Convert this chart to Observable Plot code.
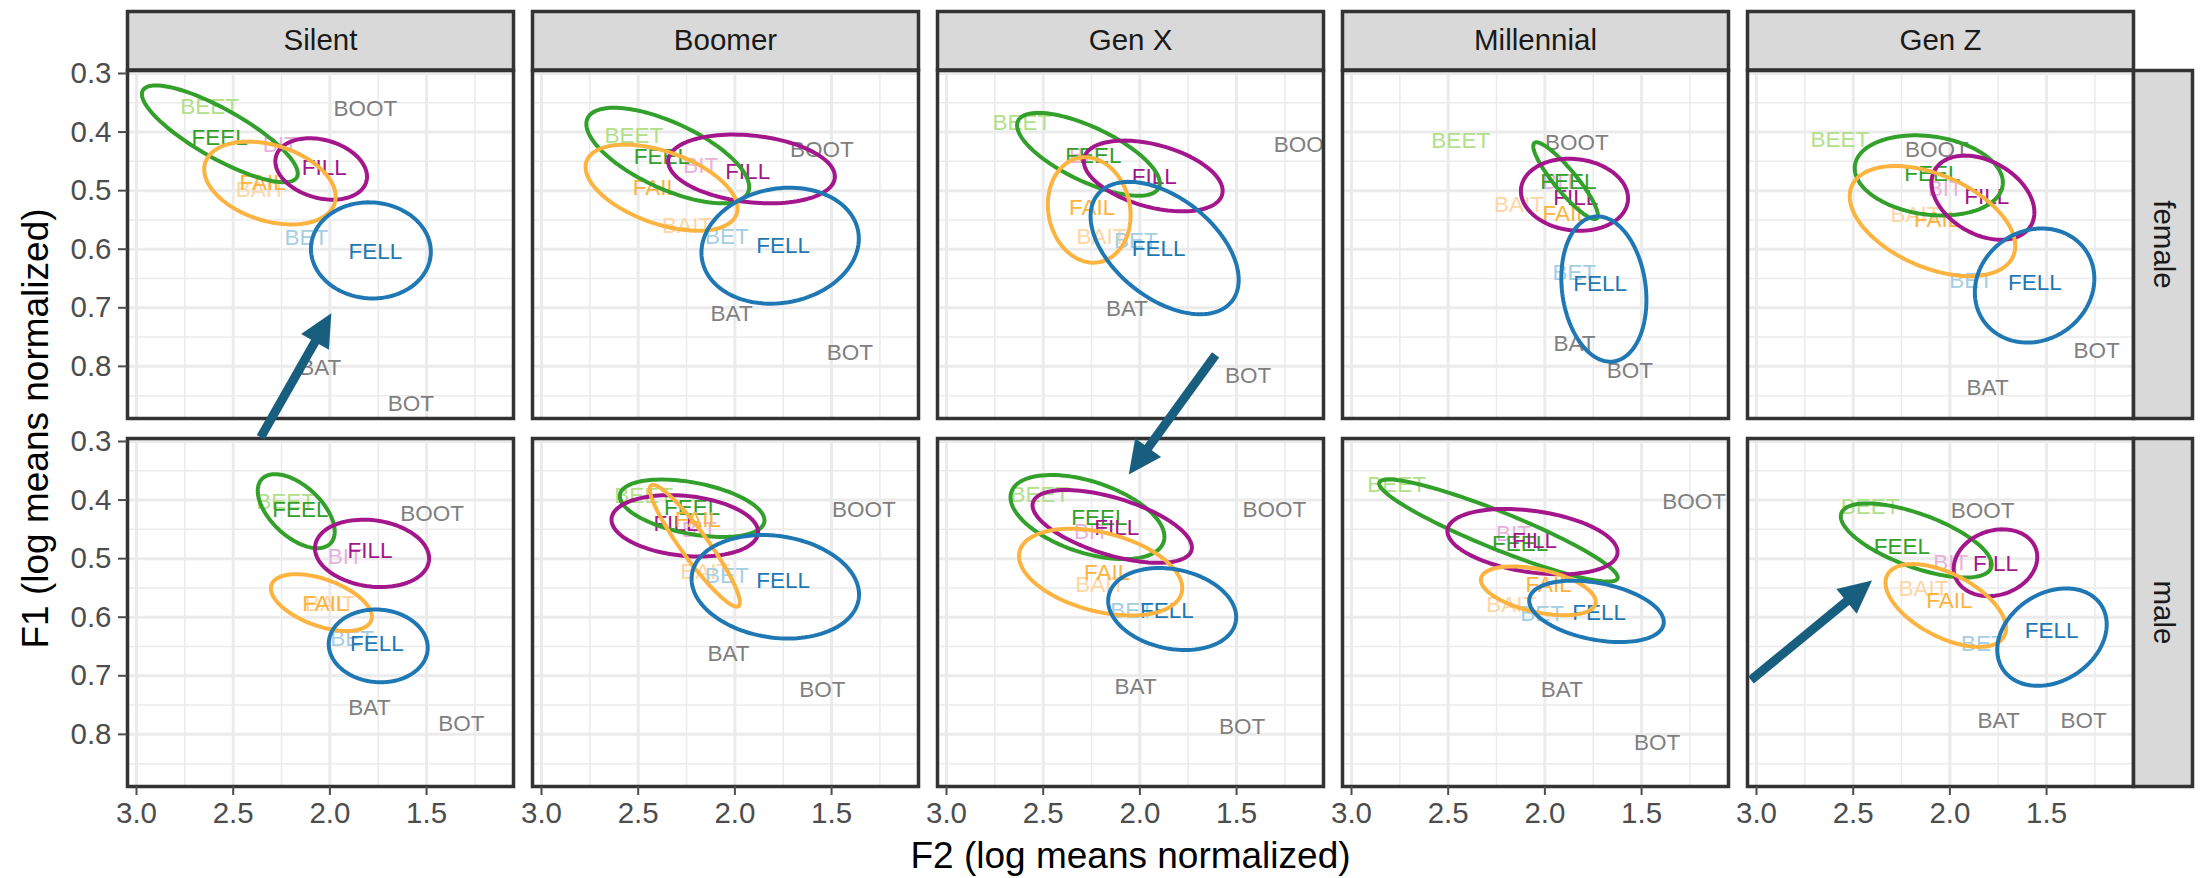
<!DOCTYPE html>
<html><head><meta charset="utf-8">
<script src="https://cdn.jsdelivr.net/npm/d3@7"></script>
<script src="https://cdn.jsdelivr.net/npm/@observablehq/plot@0.6"></script>
<style>
html,body{margin:0;padding:0;background:#fff;}
#chart svg{display:block;}
</style></head><body><div id="chart"></div>
<script>
// ---------- data ----------
const generations = ["Silent", "Boomer", "Gen X", "Millennial", "Gen Z"];
const sexes = ["female", "male"];
const words = ["BEET", "FEEL", "BIT", "FILL", "FAIL", "BAIT", "BET", "FELL", "BAT", "BOT", "BOOT"];
const wordColors = ["#b2df8a", "#33a02c", "#e6b2da", "#a3168c", "#fdb340", "#fdd6a4", "#a6cee3", "#1f78b4", "#7f7f7f", "#7f7f7f", "#7f7f7f"];
const darkWords = ["FEEL", "FILL", "FAIL", "FELL"];

// panel order: [sex, generation]
const panels = [
  ["female", "Silent"], ["female", "Boomer"], ["female", "Gen X"], ["female", "Millennial"], ["female", "Gen Z"],
  ["male", "Silent"], ["male", "Boomer"], ["male", "Gen X"], ["male", "Millennial"], ["male", "Gen Z"]
];

// label positions (word order as in `words`)
const labelF2 = [
  [2.622, 2.570, 2.257, 2.029, 2.348, 2.357, 2.121, 1.765, 2.050, 1.581, 1.816],
  [2.522, 2.378, 2.176, 1.934, 2.409, 2.247, 2.041, 1.750, 2.017, 1.405, 1.550],
  [2.610, 2.240, 2.276, 1.926, 2.247, 2.198, 2.021, 1.903, 2.067, 1.440, 1.143],
  [2.435, 1.878, 1.923, 1.840, 1.893, 2.134, 1.847, 1.714, 1.847, 1.561, 1.835],
  [2.569, 2.090, 2.024, 1.809, 2.066, 2.178, 1.890, 1.560, 1.805, 1.241, 2.067],
  [2.229, 2.153, 1.920, 1.792, 2.023, 2.000, 1.885, 1.757, 1.796, 1.320, 1.471],
  [2.472, 2.221, 2.184, 2.305, 2.191, 2.153, 2.041, 1.750, 2.033, 1.548, 1.333],
  [2.517, 2.209, 2.250, 2.119, 2.169, 2.205, 2.040, 1.860, 2.022, 1.471, 1.305],
  [2.767, 2.128, 2.162, 2.053, 1.981, 2.174, 2.014, 1.719, 1.912, 1.419, 1.228],
  [2.412, 2.248, 1.995, 1.764, 2.003, 2.136, 1.829, 1.474, 1.748, 1.309, 1.831]
];
const labelF1 = [
  [0.357, 0.409, 0.421, 0.461, 0.487, 0.499, 0.581, 0.605, 0.803, 0.864, 0.360],
  [0.407, 0.442, 0.457, 0.468, 0.496, 0.560, 0.579, 0.594, 0.711, 0.776, 0.430],
  [0.385, 0.440, 0.440, 0.476, 0.529, 0.578, 0.585, 0.599, 0.702, 0.816, 0.421],
  [0.415, 0.485, 0.485, 0.512, 0.540, 0.525, 0.641, 0.659, 0.762, 0.807, 0.419],
  [0.413, 0.472, 0.497, 0.510, 0.550, 0.541, 0.654, 0.658, 0.837, 0.774, 0.430],
  [0.403, 0.417, 0.497, 0.487, 0.577, 0.577, 0.636, 0.646, 0.754, 0.782, 0.423],
  [0.393, 0.414, 0.451, 0.441, 0.434, 0.523, 0.530, 0.537, 0.662, 0.724, 0.416],
  [0.391, 0.431, 0.454, 0.448, 0.524, 0.545, 0.589, 0.589, 0.719, 0.787, 0.417],
  [0.374, 0.475, 0.457, 0.470, 0.545, 0.578, 0.594, 0.593, 0.724, 0.815, 0.403],
  [0.412, 0.480, 0.507, 0.509, 0.572, 0.551, 0.645, 0.624, 0.777, 0.777, 0.418]
];

// ellipse parameters per panel, in order FEEL, FILL, FAIL, FELL (null = not drawn)
const ellMeanF2 = [
  [2.569, 2.045, 2.310, 1.788], [2.347, 1.914, 2.379, 1.766], [2.266, 1.931, 2.262, 1.872],
  [1.893, 1.847, null, 1.695], [2.109, 1.829, 2.090, 1.562],
  [2.174, 1.782, 2.044, 1.750], [2.221, 2.259, 2.207, 1.791], [2.271, 2.143, 2.203, 1.833],
  [2.240, 2.064, 2.034, 1.733], [2.174, 1.764, 2.021, 1.472]
];
const ellMeanF1 = [
  [0.403, 0.463, 0.487, 0.602], [0.440, 0.463, 0.495, 0.594], [0.438, 0.475, 0.533, 0.598],
  [0.483, 0.507, null, 0.668], [0.474, 0.512, 0.552, 0.662],
  [0.419, 0.491, 0.575, 0.649], [0.414, 0.444, 0.478, 0.548], [0.429, 0.445, 0.523, 0.586],
  [0.452, 0.471, 0.555, 0.590], [0.469, 0.507, 0.580, 0.634]
];
const ellSpreadF2 = [
  [0.403, 0.237, 0.340, 0.310], [0.421, 0.431, 0.393, 0.407], [0.369, 0.359, 0.214, 0.383],
  [0.167, 0.277, null, 0.220], [0.383, 0.266, 0.428, 0.309],
  [0.199, 0.295, 0.261, 0.256], [0.374, 0.379, 0.233, 0.433], [0.398, 0.412, 0.422, 0.331],
  [0.617, 0.440, 0.297, 0.348], [0.390, 0.216, 0.312, 0.283]
];
const ellSpreadF1 = [
  [0.0826, 0.0524, 0.0707, 0.0820], [0.0815, 0.0587, 0.0735, 0.0990], [0.0707, 0.0604, 0.0900, 0.1130],
  [0.0655, 0.0615, null, 0.1240], [0.0684, 0.0718, 0.0940, 0.0974],
  [0.0632, 0.0575, 0.0484, 0.0621], [0.0490, 0.0524, 0.1040, 0.0883], [0.0718, 0.0621, 0.0740, 0.0700],
  [0.0872, 0.0558, 0.0416, 0.0524], [0.0632, 0.0570, 0.0707, 0.0832]
];
const ellCorr = [
  [-0.82, -0.25, -0.33, -0.03], [-0.66, -0.22, -0.48, 0.12], [-0.70, -0.42, -0.10, -0.48],
  [-0.90, -0.10, null, -0.15], [-0.18, -0.35, -0.45, 0.12],
  [-0.55, -0.15, -0.50, -0.05], [-0.42, -0.20, -0.93, -0.15], [-0.47, -0.58, -0.37, -0.20],
  [-0.92, -0.32, -0.45, -0.35], [-0.65, 0.17, -0.55, 0.26]
];

// annotation arrows
const arrowGen = ["Silent", "Gen X", "Gen Z"];
const arrowSex = ["female", "male", "male"];
const arrowFromF2 = [2.355, 1.606, 3.026];
const arrowFromF1 = [0.922, 0.153, 0.708];
const arrowToF2 = [1.990, 2.055, 2.400];
const arrowToF1 = [0.710, 0.357, 0.538];
const arrowColor = "#185e7f";

const xMajor = [3.0, 2.5, 2.0, 1.5];
const xMinor = [2.75, 2.25, 1.75, 1.25];
const yMajor = [0.3, 0.4, 0.5, 0.6, 0.7, 0.8];
const yMinor = [0.35, 0.45, 0.55, 0.65, 0.75, 0.85];

// ---------- build tables ----------
const colorOf = new Map(words.map((w, i) => [w, wordColors[i]]));
const labels = [];
panels.forEach(([sex, gen], p) => words.forEach((w, i) => labels.push({sex, gen, word: w, f2: labelF2[p][i], f1: labelF1[p][i]})));
const lightLabels = labels.filter(d => !darkWords.includes(d.word));
const darkLabels = darkWords.flatMap(w => labels.filter(d => d.word === w));

const ellRows = [];
const N = 120;
panels.forEach(([sex, gen], p) => darkWords.forEach((w, k) => {
  const cx = ellMeanF2[p][k];
  if (cx == null) return;
  const cy = ellMeanF1[p][k], sx = ellSpreadF2[p][k], sy = ellSpreadF1[p][k], r = ellCorr[p][k];
  const q = Math.sqrt(1 - r * r);
  for (let j = 0; j <= N; ++j) {
    const t = 2 * Math.PI * j / N;
    ellRows.push({sex, gen, word: w, id: p + "-" + w,
      f2: cx + sx * Math.cos(t), f1: cy + sy * (r * Math.cos(t) + q * Math.sin(t))});
  }
}));

const arrows = arrowGen.map((g, i) => ({gen: g, sex: arrowSex[i], a2: arrowFromF2[i], a1: arrowFromF1[i], b2: arrowToF2[i], b1: arrowToF1[i]}));

// layout constants
const W = 2204, H = 878, mL = 126, mR = 70, mT = 70, mB = 91;
const padX = 0.048, padY = 0.054;
const bwX = (W - mL - mR) / (5 - padX) * (1 - padX);
const bwY = (H - mT - mB) / (2 - padY) * (1 - padY);
const stripSize = 59;

function arrowRender(index, scales, values) {
  const g = d3.create("svg:g");
  for (const i of index) {
    const x1 = values.x1[i], y1 = values.y1[i], x2 = values.x2[i], y2 = values.y2[i];
    const dx = x2 - x1, dy = y2 - y1, L = Math.hypot(dx, dy);
    const ux = dx / L, uy = dy / L, nx = -uy, ny = ux;
    const hl = 33, hw = 16;
    const bx = x2 - ux * hl, by = y2 - uy * hl;
    g.append("line").attr("x1", x1).attr("y1", y1).attr("x2", bx + ux * 3).attr("y2", by + uy * 3)
      .attr("stroke", arrowColor).attr("stroke-width", 9);
    g.append("path").attr("d", `M${x2},${y2}L${bx + nx * hw},${by + ny * hw}L${bx - nx * hw},${by - ny * hw}Z`)
      .attr("fill", arrowColor);
  }
  return g.node();
}

const font = "'Liberation Sans', Arial, Helvetica, sans-serif";

const plot = Plot.plot({
  width: W, height: H,
  marginLeft: mL, marginRight: mR, marginTop: mT, marginBottom: mB,
  style: {fontFamily: font, background: "white", overflow: "visible"},
  fx: {domain: generations, paddingInner: padX, paddingOuter: 0, axis: null},
  fy: {domain: sexes, paddingInner: padY, paddingOuter: 0, axis: null},
  x: {domain: [3.0465, 1.0505]},
  y: {domain: [0.2949, 0.889], reverse: true},
  color: {type: "identity"},
  marks: [
    Plot.frame({fill: "white"}),
    Plot.gridX(xMinor, {stroke: "#ebebeb", strokeOpacity: 1, strokeWidth: 1.5}),
    Plot.gridY(yMinor, {stroke: "#ebebeb", strokeOpacity: 1, strokeWidth: 1.5}),
    Plot.gridX(xMajor, {stroke: "#ebebeb", strokeOpacity: 1, strokeWidth: 3}),
    Plot.gridY(yMajor, {stroke: "#ebebeb", strokeOpacity: 1, strokeWidth: 3}),
    Plot.text(lightLabels, {fx: "gen", fy: "sex", x: "f2", y: "f1", text: "word", fill: d => colorOf.get(d.word), fontSize: 22.5, clip: true}),
    Plot.text(darkLabels, {fx: "gen", fy: "sex", x: "f2", y: "f1", text: "word", fill: d => colorOf.get(d.word), fontSize: 22.5, clip: true}),
    Plot.line(ellRows, {fx: "gen", fy: "sex", x: "f2", y: "f1", z: "id", stroke: d => colorOf.get(d.word), strokeWidth: 4, clip: true}),
    Plot.frame({stroke: "#333333", strokeWidth: 3.5}),
    // strips
    Plot.frame({facetAnchor: "top", fill: "#d9d9d9", stroke: "#333333", strokeWidth: 3.5, insetTop: -stripSize, insetBottom: bwY}),
    Plot.frame({facetAnchor: "right", fill: "#d9d9d9", stroke: "#333333", strokeWidth: 3.5, insetLeft: bwX, insetRight: -stripSize}),
    Plot.text(generations, {fx: d => d, fy: () => "female", text: d => d, frameAnchor: "top", lineAnchor: "middle", textAnchor: "middle", dy: -stripSize / 2, fontSize: 29.5, fill: "#1a1a1a"}),
    Plot.text(sexes, {fy: d => d, fx: () => "Gen Z", text: d => d, frameAnchor: "right", lineAnchor: "middle", textAnchor: "middle", dx: stripSize / 2, rotate: 90, fontSize: 29.5, fill: "#1a1a1a"}),
    // axes
    Plot.axisX({ticks: xMajor, tickFormat: d3.format(".1f"), tickSize: 9, tickPadding: 7, fontSize: 29.5, label: null, color: "#4d4d4d", strokeWidth: 2}),
    Plot.axisY({ticks: yMajor, tickFormat: d3.format(".1f"), tickSize: 9, tickPadding: 7, fontSize: 29.5, label: null, color: "#4d4d4d", strokeWidth: 2}),
    // arrows
    Plot.link(arrows, {fx: "gen", fy: "sex", x1: "a2", y1: "a1", x2: "b2", y2: "b1", render: arrowRender}),
    // axis titles
    Plot.text(["F2 (log means normalized)"], {facet: "super", frameAnchor: "bottom", lineAnchor: "middle", textAnchor: "middle", dy: 70, fontSize: 37, fill: "black"}),
    Plot.text(["F1 (log means normalized)"], {facet: "super", frameAnchor: "left", lineAnchor: "middle", textAnchor: "middle", dx: -91, rotate: -90, fontSize: 37, fill: "black"})
  ]
});
document.getElementById("chart").appendChild(plot);
</script></body></html>
